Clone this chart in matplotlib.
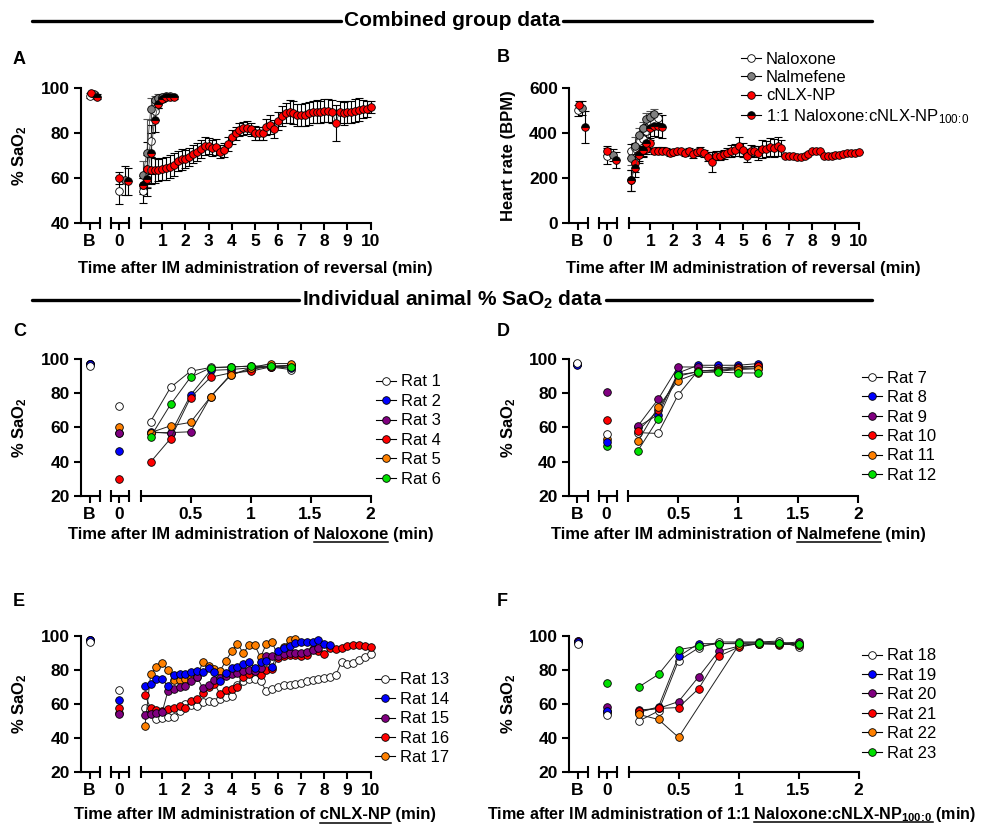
import numpy as np
import matplotlib
matplotlib.use("Agg")
import matplotlib.pyplot as plt
from matplotlib.lines import Line2D

plt.rcParams['font.family'] = ['Liberation Sans', 'DejaVu Sans']
plt.rcParams['mathtext.fontset'] = 'custom'
plt.rcParams['mathtext.rm'] = 'Liberation Sans'
plt.rcParams['mathtext.bf'] = 'Liberation Sans:bold'
plt.rcParams['mathtext.it'] = 'Liberation Sans:italic'

# ---------------- data ----------------
# sampling grids (min)
t10 = np.arange(1, 61) / 6.0     # 10 s sampling
t15 = np.arange(1, 41) / 4.0     # 15 s sampling (cNLX-NP individual rats)

group_names = ['Naloxone', 'Nalmefene', 'cNLX-NP', r'1:1 Naloxone:cNLX-NP$_{\mathrm{100\!:\!0}}$']
# order: naloxone, nalmefene, cNLX-NP, 1:1
base_off = [0, 4, 1, 7]          # small horizontal shift of group points in B / 0 columns
zero_off = [0, 6, 0, 9]

# Panel A: % SaO2 group means (SEM)
sao2_base = [96.5, 97.0, 97.5, 96.0]
sao2_base_err = [1.0, 1.0, 0.8, 1.0]
sao2_zero = [54.5, 59.0, 60.0, 58.5]
sao2_zero_err = [6.0, 6.5, 2.5, 6.0]
sao2_nal = [54.5, 64.0, 76.5, 89.8, 93.3, 95.0, 96.0, 96.3]
sao2_nal_err = [5.5, 6.0, 7.0, 4.0, 2.5, 1.5, 1.0, 1.0]
sao2_nme = [61.5, 71.0, 90.5, 94.5, 95.5, 96.0, 96.2]
sao2_nme_err = [6.0, 15.0, 5.0, 2.0, 1.5, 1.0, 1.0]
sao2_mix = [56.9, 59.7, 70.9, 85.5, 93.0, 95.0, 95.8, 96.0, 95.7]
sao2_mix_err = [4.0, 4.0, 9.0, 5.0, 2.0, 1.0, 0.5, 0.5, 0.5]
sao2_cnlx = [57, 64, 63.5, 63.5, 63.5, 64, 64.3, 65, 66, 67.5,
             68.3, 68.3, 69.5, 70.7, 71.7, 73, 74, 74.3, 73.4, 73.8,
             71.7, 72.5, 75, 78.3, 79.8, 81.5, 82, 82.3, 81.6, 80,
             79.8, 79.8, 82.5, 83.7, 81.6, 85.4, 87.5, 88.7, 89.4, 89,
             88, 88, 88.1, 88.7, 89.3, 89.4, 89.2, 89.9, 89.9, 89.4,
             84.5, 89.2, 88.7, 89.2, 89.2, 89.8, 90.3, 90.7, 90.7, 91.5]
sao2_cnlx_err = [3, 12, 6, 5.5, 5, 5, 5, 5, 5, 4.5,
                 4.5, 4, 4, 4, 4, 4, 4, 3.5, 3.5, 3.5,
                 3, 3, 3, 3, 3, 3, 3, 3, 3, 3,
                 3, 3, 3.5, 4, 4, 4, 4.5, 4.5, 5, 5,
                 5, 5, 5, 5, 5, 5, 5, 5, 5, 5,
                 8, 5, 5, 5, 5, 5, 5, 4, 3.5, 2.5]

# Panel B: heart rate (BPM)
hr_base = [500, 510, 522, 425]
hr_base_err = [25, 30, 20, 70]
hr_zero = [298, 302, 322, 280]
hr_zero_err = [35, 25, 20, 35]
hr_nal = [320, 332, 365, 372, 410, 450, 448, 466]
hr_nal_err = [30, 25, 25, 30, 30, 25, 30, 20]
hr_nme = [290, 340, 390, 420, 460, 470, 485]
hr_nme_err = [30, 40, 30, 30, 30, 25, 20]
hr_mix = [190, 245, 302, 325, 355, 420, 432, 430, 428]
hr_mix_err = [45, 40, 35, 30, 40, 50, 45, 50, 50]
hr_cnlx = [190, 265, 305, 325, 328, 354, 320, 322, 322, 320,
           312, 315, 318, 318, 312, 322, 305, 315, 322, 310,
           295, 272, 298, 298, 305, 312, 320, 325, 340, 325,
           300, 322, 318, 312, 330, 330, 338, 332, 340, 335,
           300, 298, 298, 295, 292, 298, 308, 318, 318, 318,
           300, 298, 300, 302, 302, 305, 310, 310, 310, 315]
hr_cnlx_err = [45, 40, 30, 25, 20, 25, 15, 15, 15, 15,
               15, 12, 12, 12, 12, 12, 15, 15, 15, 15,
               20, 45, 20, 20, 20, 20, 25, 25, 40, 30,
               30, 25, 25, 30, 40, 35, 40, 40, 40, 35,
               0, 0, 0, 0, 0, 0, 0, 0, 0, 0,
               0, 0, 0, 0, 0, 0, 0, 0, 0, 0]

rat_colors = ['white', '#0000ff', '#800080', '#ff0000', '#ff8000', '#00e000']

# Panel C: naloxone rats 1-6
C_labels = ['Rat 1', 'Rat 2', 'Rat 3', 'Rat 4', 'Rat 5', 'Rat 6']
C_base = [96.0, 97.5, 97.5, 97.5, 97.5, 97.5]
C_zero = [72.5, 46.5, 56.5, 29.8, 60.0, 56.5]
C_rats = [[63.5, 83.5, 93.0, 95.2, 95.5, 96.0, 95.5, 94.0],
          [57.5, 56.5, 79.0, 93.5, 94.0, 95.0, 95.5, 95.0],
          [57.0, 57.0, 57.5, 78.0, 91.0, 94.0, 96.0, 96.5],
          [39.7, 53.5, 77.5, 89.5, 92.0, 93.0, 95.5, 96.5],
          [57.0, 61.0, 63.0, 78.0, 90.5, 95.0, 97.5, 97.5],
          [54.5, 73.5, 89.5, 95.0, 95.5, 96.0, 96.0, 95.5]]

# Panel D: nalmefene rats 7-12
D_labels = ['Rat 7', 'Rat 8', 'Rat 9', 'Rat 10', 'Rat 11', 'Rat 12']
D_base = [98.0, 96.5, 97.0, 97.0, 97.0, 97.0]
D_zero = [56.0, 51.5, 81.0, 64.5, 53.0, 49.0]
D_rats = [[57.0, 56.5, 79.0, 93.3, 93.5, 94.5, 95.0],
          [60.5, 67.5, 92.0, 96.5, 96.5, 96.5, 97.5],
          [61.0, 76.5, 95.5, 95.5, 95.0, 95.5, 96.0],
          [58.0, 70.0, 90.0, 93.0, 94.0, 95.0, 96.0],
          [52.0, 72.0, 87.5, 92.0, 93.0, 94.0, 94.5],
          [46.5, 65.0, 91.0, 92.5, 92.5, 92.0, 92.0]]

# Panel E: cNLX-NP rats 13-17
E_labels = ['Rat 13', 'Rat 14', 'Rat 15', 'Rat 16', 'Rat 17']
E_colors = ['white', '#0000ff', '#800080', '#ff0000', '#ff8000']
E_base = [96.5, 97.5, 97.5, 97.5, 97.5]
E_zero = [68.5, 62.5, 54.0, 57.5, 55.0]
E_rats = [[57.5, 55, 51, 52, 52.5, 52.5, 56, 60, 59.5, 59,
           61, 62, 61.5, 63, 64, 65, 71, 73.5, 75, 74.5,
           73.5, 67.5, 69, 70, 71, 71, 72, 72.5, 73.5, 74,
           74.5, 75.5, 76, 77, 85, 83.5, 84, 86, 87.5, 89.5],
          [70.5, 72, 74.5, 74.5, 70.5, 77, 77.5, 77.5, 79, 79.5,
           79, 81.5, 79, 73.5, 78, 81, 82, 83.5, 84.5, 81,
           84.5, 85.5, 82, 91, 93, 94, 96, 96.5, 96.5, 96.5,
           97.5, 95.5, 95],
          [53.5, 54.5, 55, 55.5, 68, 69, 70, 70.5, 73.5, 76,
           69.5, 71, 74, 75.5, 76.5, 77.5, 78.5, 79.5, 80, 79.5,
           81, 88, 88.5, 88.5, 89.5, 90, 90, 90, 90.5, 91.5, 93],
          [65.5, 57.5, 56.5, 56, 57, 57.5, 59, 57.5, 62, 63,
           66.5, 70, 72, 66, 68.5, 69, 70, 76, 77.5, 79.5,
           77, 80, 80.5, 87, 88.5, 89, 89, 88.5, 89, 92.5,
           91, 89.5, 93, 92.5, 93, 94, 94.5, 94.5, 94, 93.5],
          [47, 77.5, 82, 84, 80, 74, 74, 74.5, 75.5, 76,
           84.5, 82.5, 80.5, 79.5, 85.5, 91, 95.5, 90, 94.5, 94.5,
           87.5, 95.5, 96.5, 88, 93.5, 97.5, 98]]

# Panel F: 1:1 naloxone:cNLX-NP rats 18-23
F_labels = ['Rat 18', 'Rat 19', 'Rat 20', 'Rat 21', 'Rat 22', 'Rat 23']
F_base = [95.5, 96.5, 97.0, 97.0, 96.5, 96.5]
F_zero = [53.5, 56.0, 58.5, 56.0, 55.0, 72.5]
F_rats = [[50.0, 56.0, 85.5, 93.0, 96.5, 96.5, 96.5, 97.0, 93.5],
          [55.0, 58.5, 88.0, 95.5, 95.5, 95.5, 96.0, 96.0, 95.5],
          [56.5, 57.5, 61.5, 76.0, 91.0, 94.0, 95.5, 95.5, 96.5],
          [56.0, 57.5, 58.0, 69.0, 88.0, 93.5, 95.5, 95.0, 95.0],
          [54.0, 51.0, 40.5, np.nan, np.nan, 94.5, 95.5, 95.5, 95.0],
          [70.0, 77.5, 92.0, 94.0, 95.5, 96.0, 96.0, 96.0, 95.5]]

# ---------------- drawing ----------------
W, H = 991, 824
fig = plt.figure(figsize=(W / 100, H / 100), dpi=100)
LW = 1.5
TFS = 12.5
LFS = 12
MS = 5.5


def px_ax(x0, x1, ytop, ybot):
    return fig.add_axes([x0 / W, 1 - ybot / H, (x1 - x0) / W, (ybot - ytop) / H])


def make_panel(x0, ytop, ybot, ylim, yticks, tlim, tticks, tlabels):
    a1 = px_ax(x0, x0 + 19, ytop, ybot)
    a2 = px_ax(x0 + 30, x0 + 48, ytop, ybot)
    a3 = px_ax(x0 + 59.5, x0 + 289.5, ytop, ybot)
    for a in (a1, a2, a3):
        a.set_ylim(ylim)
        a.patch.set_visible(False)
        a.spines['top'].set_visible(False)
        a.spines['right'].set_visible(False)
        a.spines['bottom'].set_linewidth(LW)
        a.spines['left'].set_linewidth(LW)
        a.tick_params(which='major', direction='out', length=5, width=LW, labelsize=TFS, pad=3)
        a.tick_params(axis='x', which='minor', direction='inout', length=9, width=LW)
    for a in (a2, a3):
        a.spines['left'].set_visible(False)
        a.tick_params(axis='y', left=False, labelleft=False)
    a1.set_yticks(yticks)
    a1.set_yticklabels([str(v) for v in yticks], fontweight='bold', fontsize=TFS)
    a1.set_xlim(-8.5, 10.5)
    a1.set_xticks([0])
    a1.set_xticklabels(['B'], fontweight='bold', fontsize=TFS)
    a1.set_xticks([10.5], minor=True)
    a2.set_xlim(-8, 10)
    a2.set_xticks([0])
    a2.set_xticklabels(['0'], fontweight='bold', fontsize=TFS)
    a2.set_xticks([-8, 10], minor=True)
    a3.set_xlim(tlim)
    a3.set_xticks(tticks)
    a3.set_xticklabels(tlabels, fontweight='bold', fontsize=TFS)
    a3.set_xticks([tlim[0]], minor=True)
    return a1, a2, a3


def style(i):
    if i == 0:
        return dict(mfc='white')
    if i == 1:
        return dict(mfc='#808080')
    if i == 2:
        return dict(mfc='#ff0000')
    return dict(mfc='black', mfcalt='#ff0000', fillstyle='top')


def plot_group(ax, x, y, e, i, line=True, ecol='black'):
    ax.errorbar(x, y, yerr=e, fmt='none', ecolor=ecol, elinewidth=0.8,
                capsize=2.8, capthick=0.8, clip_on=False, zorder=2 + i * 0.1)
    ax.plot(x, y, '-' if line else 'none', color='#444444', lw=0.6, marker='o', ms=MS,
            mec='black', mew=0.6, clip_on=False, zorder=3 + i * 0.1, **style(i))


def group_panel(axs, base, base_e, zero, zero_e, series):
    a1, a2, a3 = axs
    for i in range(4):
        plot_group(a1, [base_off[i]], [base[i]], [base_e[i]], i, line=False)
        plot_group(a2, [zero_off[i]], [zero[i]], [zero_e[i]], i, line=False)
    for i in [2, 1, 0, 3]:
        t, y, e = series[i]
        plot_group(a3, t[:len(y)], y, e, i, ecol='#555555' if i == 1 else 'black')


def rat_panel(axs, times, rats, base, zero, colors, order):
    a1, a2, a3 = axs
    for i in reversed(range(len(rats))):
        kw = dict(marker='o', ms=MS, mfc=colors[i], mec='black', mew=0.6, ls='none', clip_on=False)
        a1.plot([0], [base[i]], **kw)
        a2.plot([0], [zero[i]], **kw)
    for i in order:
        y = np.array(rats[i], dtype=float)
        t = np.array(times[:len(y)])
        m = ~np.isnan(y)
        a3.plot(t[m], y[m], '-', color='#222222', lw=0.7, marker='o', ms=MS, mfc=colors[i],
                mec='black', mew=0.6, clip_on=False)


def add_legend(hx, ytop, labels, colors, half=False, spacing=0.265):
    hs = []
    for i, c in enumerate(colors):
        if half and i == 3:
            hs.append(Line2D([0], [0], color='black', lw=0.8, marker='o', ms=MS, mfc='black',
                             mfcalt='#ff0000', fillstyle='top', mec='black', mew=0.6))
        else:
            hs.append(Line2D([0], [0], color='black', lw=0.8, marker='o', ms=MS, mfc=c,
                             mec='black', mew=0.6))
    fig.legend(hs, labels, loc='upper left', bbox_to_anchor=(hx / W, 1 - ytop / H),
               frameon=False, borderpad=0, borderaxespad=0, handlelength=1.2,
               handletextpad=0.3, labelspacing=spacing, prop={'size': 12, 'weight': 'normal'})


renderer = fig.canvas.get_renderer()


def text_width(s, **kw):
    tt = fig.text(0, 0, 'a' + s + 'a', **kw)
    w = tt.get_window_extent(renderer).width
    tt.remove()
    tt2 = fig.text(0, 0, 'aa', **kw)
    w2 = tt2.get_window_extent(renderer).width
    tt2.remove()
    return w - w2


def xlabel(x_left, y_base, pre, under='', post='', size=LFS):
    kw = dict(fontsize=size, fontweight='bold')
    fig.text(x_left / W, 1 - y_base / H, pre + under + post, ha='left', va='baseline', **kw)
    if under:
        u0 = x_left + text_width(pre, **kw)
        u1 = u0 + text_width(under, **kw)
        fig.add_artist(Line2D([u0 / W, u1 / W], [1 - (y_base + 3) / H] * 2, color='black',
                              lw=1.1, transform=fig.transFigure))


def ylabel(xc, yc, s):
    fig.text(xc / W, 1 - yc / H, s, rotation=90, ha='center', va='center',
             fontsize=LFS, fontweight='bold')


def section_title(y, x_left, s):
    kw = dict(fontsize=15, fontweight='bold')
    t = fig.text(x_left / W, 1 - y / H, s, ha='left', va='center', **kw)
    w = t.get_window_extent(renderer).width
    fig.add_artist(Line2D([32 / W, (x_left - 3) / W], [1 - y / H] * 2, color='black', lw=2.4,
                          solid_capstyle='round', transform=fig.transFigure))
    fig.add_artist(Line2D([(x_left + w + 3) / W, 872 / W], [1 - y / H] * 2, color='black', lw=2.4,
                          solid_capstyle='round', transform=fig.transFigure))


long_ticks = [1, 2, 3, 4, 5, 6, 7, 8, 9, 10]
long_lbls = [str(v) for v in long_ticks]
short_ticks = [0.5, 1, 1.5, 2]
short_lbls = ['0.5', '1', '1.5', '2']

# Panel A
axA = make_panel(81, 87.7, 223.3, (40, 100), [40, 60, 80, 100], (0.06, 10), long_ticks, long_lbls)
group_panel(axA, sao2_base, sao2_base_err, sao2_zero, sao2_zero_err,
            [(t10, sao2_nal, sao2_nal_err), (t10, sao2_nme, sao2_nme_err),
             (t10, sao2_cnlx, sao2_cnlx_err), (t10, sao2_mix, sao2_mix_err)])

# Panel B
axB = make_panel(569, 87.7, 223.3, (0, 600), [0, 200, 400, 600], (0.06, 10), long_ticks, long_lbls)
group_panel(axB, hr_base, hr_base_err, hr_zero, hr_zero_err,
            [(t10, hr_nal, hr_nal_err), (t10, hr_nme, hr_nme_err),
             (t10, hr_cnlx, hr_cnlx_err), (t10, hr_mix, hr_mix_err)])
add_legend(741, 51.5, group_names, ['white', '#808080', '#ff0000', None], half=True, spacing=0.21)

# Panels C-F
axC = make_panel(81, 359.3, 495.7, (20, 100), [20, 40, 60, 80, 100], (0.083, 2), short_ticks, short_lbls)
rat_panel(axC, t10, C_rats, C_base, C_zero, rat_colors, range(6))
add_legend(376, 374.5, C_labels, rat_colors)

axD = make_panel(568.5, 359.3, 495.7, (20, 100), [20, 40, 60, 80, 100], (0.083, 2), short_ticks, short_lbls)
rat_panel(axD, t10, D_rats, D_base, D_zero, rat_colors, range(6))
add_legend(862, 370.8, D_labels, rat_colors)

axE = make_panel(81, 636, 772.3, (20, 100), [20, 40, 60, 80, 100], (0.06, 10), long_ticks, long_lbls)
rat_panel(axE, t15, E_rats, E_base, E_zero, E_colors, [0, 4, 3, 2, 1])
add_legend(375, 672.5, E_labels, E_colors)

axF = make_panel(569, 636, 772.3, (20, 100), [20, 40, 60, 80, 100], (0.083, 2), short_ticks, short_lbls)
rat_panel(axF, t10, F_rats, F_base, F_zero, rat_colors, range(6))
add_legend(862, 648.5, F_labels, rat_colors)

# axis labels
xlabel(78, 272.5, 'Time after IM administration of reversal (min)')
xlabel(566, 272.5, 'Time after IM administration of reversal (min)')
xlabel(68, 538.5, 'Time after IM administration of ', 'Naloxone', ' (min)')
xlabel(551, 538.5, 'Time after IM administration of ', 'Nalmefene', ' (min)')
xlabel(74, 819.5, 'Time after IM administration of ', 'cNLX-NP', ' (min)')
xlabel(487, 819, 'Time after IM administration of 1:1 ', r'Naloxone:cNLX-NP$_{\mathbf{100\!:\!0}}$',
       ' (min)', size=11.6)

sao2 = r'% SaO$_{\mathbf{2}}$'
ylabel(20, 155.5, sao2)
ylabel(509, 155.5, 'Heart rate (BPM)')
ylabel(20, 427.5, sao2)
ylabel(509, 427.5, sao2)
ylabel(20, 704, sao2)
ylabel(509, 704, sao2)

# panel letters
for s, x, y in [('A', 13, 60), ('B', 497, 58), ('C', 13, 331), ('D', 497, 331),
                ('E', 13, 602), ('F', 497, 602)]:
    fig.text(x / W, 1 - y / H, s, ha='left', va='center', fontsize=13, fontweight='bold')

section_title(21, 344, 'Combined group data')
section_title(300, 302, r'Individual animal % SaO$_{\mathbf{2}}$ data')

fig.savefig('out.png', dpi=100)
